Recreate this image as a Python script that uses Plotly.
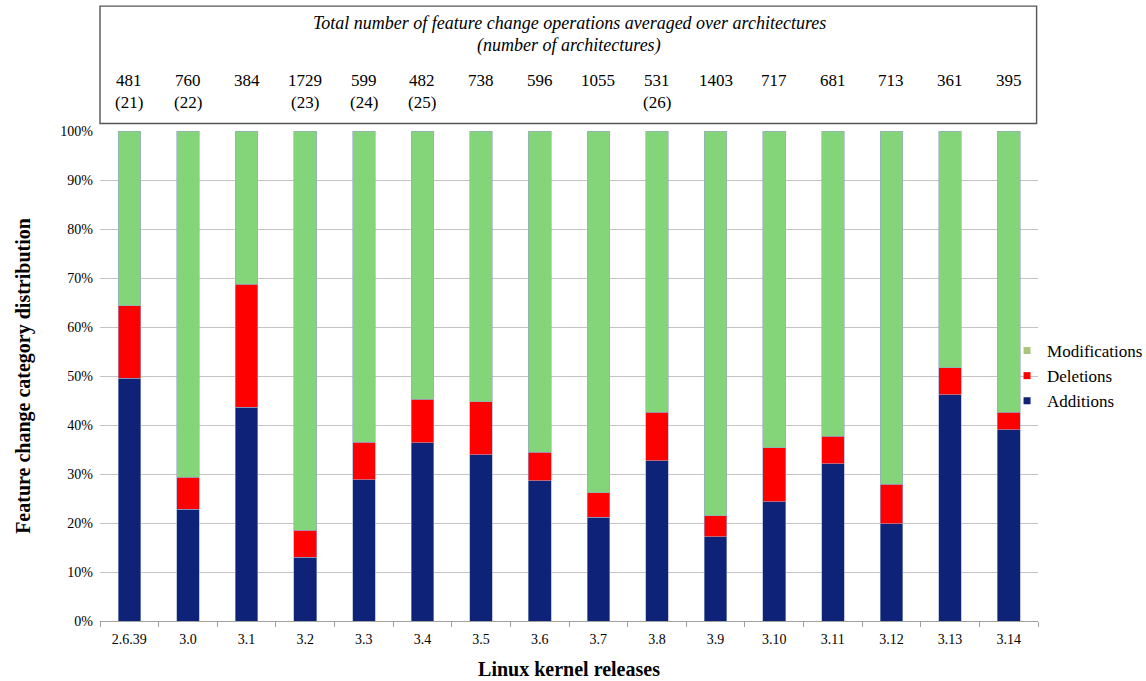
import plotly.graph_objects as go

releases = ["2.6.39", "3.0", "3.1", "3.2", "3.3", "3.4", "3.5", "3.6",
            "3.7", "3.8", "3.9", "3.10", "3.11", "3.12", "3.13", "3.14"]
additions = [49.5, 22.8, 43.6, 13.0, 28.8, 36.4, 33.9, 28.6,
             21.2, 32.7, 17.2, 24.3, 32.1, 19.8, 46.2, 39.0]
deletions = [14.8, 6.5, 25.1, 5.5, 7.7, 8.9, 10.8, 5.8,
             5.0, 9.9, 4.3, 11.1, 5.6, 8.1, 5.5, 3.6]
modifications = [round(100 - a - d, 1) for a, d in zip(additions, deletions)]
totals = ["481", "760", "384", "1729", "599", "482", "738", "596",
          "1055", "531", "1403", "717", "681", "713", "361", "395"]
num_archs = ["(21)", "(22)", "", "(23)", "(24)", "(25)", "", "",
             "", "(26)", "", "", "", "", "", ""]

C_ADD = "#0e2277"
C_DEL = "#ff0000"
C_MOD = "#84d57a"
C_MOD_LEG = "#a9c47c"
FONT = "Liberation Serif"

fig = go.Figure()
for name, vals, col in [("Additions", additions, C_ADD),
                        ("Deletions", deletions, C_DEL),
                        ("Modifications", modifications, C_MOD)]:
    fig.add_trace(go.Bar(x=releases, y=vals, name=name, marker_color=col,
                         marker_line=dict(color="#9aa6cc", width=0.6),
                         width=0.386, showlegend=False))

# legend entries (small squares, as in reference)
for name, col in [("Modifications", C_MOD_LEG), ("Deletions", C_DEL), ("Additions", C_ADD)]:
    fig.add_trace(go.Scatter(x=[None], y=[None], mode="markers", name=name,
                             marker=dict(symbol="square", size=7, color=col)))

# header box with totals
fig.add_shape(type="rect", xref="paper", yref="paper", x0=0, x1=0.9985,
              y0=1.0153, y1=1.2548, line=dict(color="#555555", width=1.4))
fig.add_annotation(xref="paper", yref="paper", x=0.5, y=1.221,
                   text="<i>Total number of feature change operations averaged over architectures</i>",
                   showarrow=False, font=dict(family=FONT, size=18, color="black"),
                   xanchor="center", yanchor="middle")
fig.add_annotation(xref="paper", yref="paper", x=0.5, y=1.174,
                   text="<i>(number of architectures)</i>",
                   showarrow=False, font=dict(family=FONT, size=18, color="black"),
                   xanchor="center", yanchor="middle")
for i, (t, n) in enumerate(zip(totals, num_archs)):
    fig.add_annotation(xref="x", yref="paper", x=i, y=1.103, text=t, showarrow=False,
                       font=dict(family=FONT, size=17, color="black"),
                       xanchor="center", yanchor="middle")
    if n:
        fig.add_annotation(xref="x", yref="paper", x=i, y=1.058, text=n, showarrow=False,
                           font=dict(family=FONT, size=17, color="black"),
                           xanchor="center", yanchor="middle")

fig.update_layout(
    barmode="stack",
    width=1146, height=681,
    margin=dict(l=100, r=108, t=130.5, b=60, autoexpand=False),
    paper_bgcolor="white", plot_bgcolor="white",
    font=dict(family=FONT, size=14, color="black"),
    legend=dict(x=0.967, xanchor="left", y=0.5, yanchor="middle",
                traceorder="normal", bgcolor="rgba(0,0,0,0)",
                font=dict(family=FONT, size=17, color="black"),
                itemwidth=30, tracegroupgap=0),
    xaxis=dict(type="category", showgrid=False, ticks="outside", tickson="boundaries",
               ticklen=5, tickcolor="#a0a0a0", showline=True, linecolor="#a0a0a0",
               linewidth=1, tickfont=dict(family=FONT, size=14), ticklabelstandoff=5,
               title=dict(text="<b>Linux kernel releases</b>", standoff=16,
                          font=dict(family=FONT, size=20))),
    yaxis=dict(range=[0, 100], tickvals=[0, 10, 20, 30, 40, 50, 60, 70, 80, 90, 100],
               ticktext=["0%", "10%", "20%", "30%", "40%", "50%", "60%", "70%", "80%", "90%", "100%"],
               showgrid=True, gridcolor="#c4c4c4", gridwidth=1.2, zeroline=False,
               showline=False, tickfont=dict(family=FONT, size=14), ticklen=0,
               ticklabelstandoff=6,
               title=dict(text="<b>Feature change category distribution</b>", standoff=24,
                          font=dict(family=FONT, size=20))),
)

fig.write_html("out.html", config={"displayModeBar": False},
               post_script="document.body.style.margin='0';")
